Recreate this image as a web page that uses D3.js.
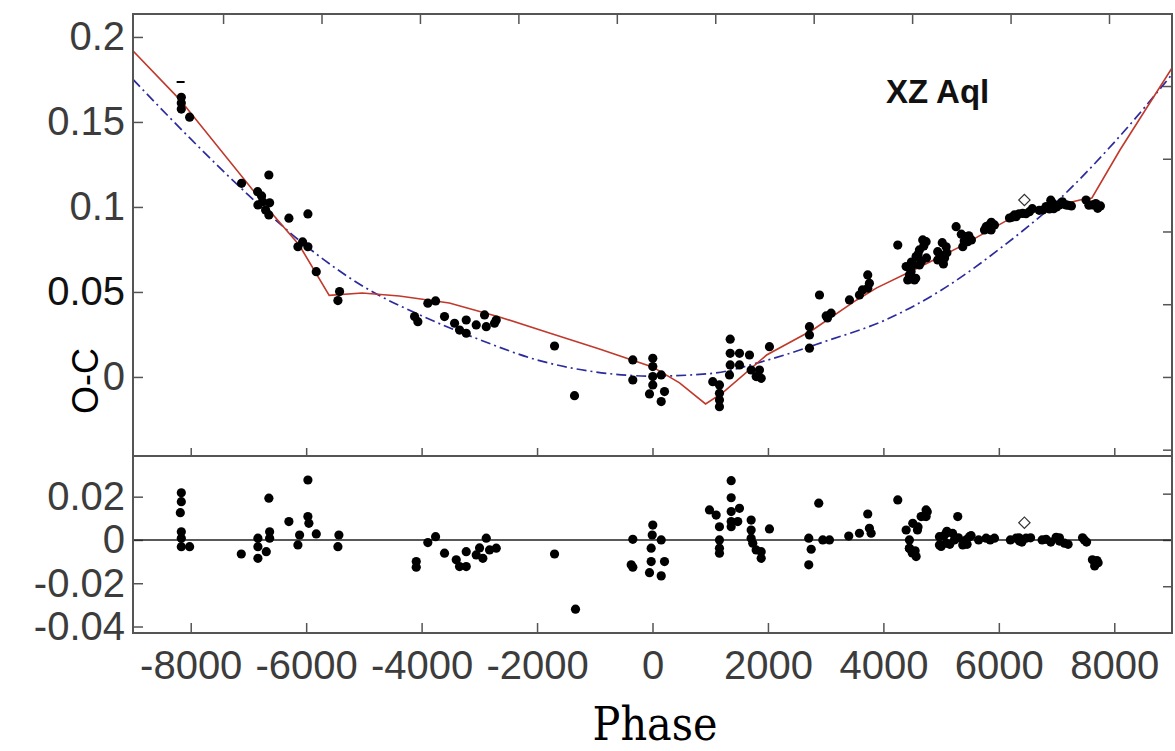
<!DOCTYPE html>
<html>
<head>
<meta charset="utf-8">
<script src="https://cdn.jsdelivr.net/npm/d3@7"></script>
<style>
  body { margin: 0; background: #fff; }
  .axis path { display: none; }
  .axis line { stroke: #555; stroke-width: 1.5; }
  .axis text { font-family: "Liberation Sans", Arial, sans-serif; font-size: 40px; fill: #3c3c3c; }
</style>
</head>
<body>
<svg id="chart" width="1175" height="751"></svg>
<script>
// O-C observations (phase, days)
var obsPhase = [-8163,-8163,-8163,-8019,-7119,-6646,-6841,-6755,-6633,-6836,-6772,-6703,-6646,-6299,-5970,
  -6143,-5970,-6062,-5825,-5421,-5450,-4122,-4065,-3892,-3758,-3603,-3429,-3343,-3227,-3227,-3054,-2910,-2880,
  -2737,-2707,-1697,-1351,-341,-341,5,5,5,151,5,-52,208,151,1044,1160,1160,1160,1160,1346,1346,1346,1334,1507,
  1507,1680,1709,1796,1853,1883,2026,2719,2719,2719,2893,3009,3095,3031,3412,3585,3729,3729,3758,3637,4249,4394,
  4422,4451,4538,4567,4624,4682,4740,4486,4624,4746,4941,4941,5087,5000,5040,5260,5433,5461,5375,5525,5780,5866,
  5924,5751,6270,6299,6414,6530,6184,6760,6819,6934,7050,7165,6876,7257,7511,7626,7713,7760,
  4480,4520,4600,4700,4660,4560,4980,5060,5020,5100,5350,5400,5480,5820,5870,6230,6350,6470,6580,
  6700,6900,7000,7100,7200,6950,7560,7680,7720];
var obsOC = [0.1645,0.1612,0.1576,0.1528,0.1139,0.1188,0.109,0.1031,0.1024,0.1012,0.1065,0.0982,0.0953,0.0934,0.0959,
  0.0766,0.0766,0.0794,0.0619,0.0502,0.0449,0.0355,0.0325,0.0434,0.0447,0.0355,0.0316,0.0276,0.0257,0.0335,0.0306,0.0365,0.0296,
  0.0316,0.0335,0.0182,-0.011,0.01,-0.0018,0.011,0.0061,0.0002,0.0012,-0.0047,-0.01,-0.0086,-0.0145,-0.0028,-0.0047,-0.0096,-0.0135,-0.0175,0.0222,0.0139,0.0071,0.0012,0.0139,
  0.0071,0.0129,0.0041,0.0002,0.0041,-0.0008,0.0178,0.0296,0.0247,0.0169,0.0482,0.0359,0.0375,0.0347,0.0453,0.0482,0.0522,0.06,0.0551,0.0512,0.0776,0.0649,
  0.0571,0.06,0.0571,0.0708,0.0747,0.0806,0.0796,0.0676,0.0659,0.07,0.0737,0.0688,0.0766,0.0708,0.0665,0.0884,0.0825,0.0796,0.0766,0.0806,0.0884,0.0865,
  0.0894,0.0865,0.0953,0.0943,0.0962,0.0972,0.0935,0.0982,0.1002,0.1022,0.1012,0.1012,0.0988,0.1006,0.1041,0.1012,0.0992,0.1006,
  0.062,0.066,0.072,0.077,0.068,0.058,0.072,0.070,0.079,0.073,0.084,0.080,0.083,0.089,0.091,0.094,0.096,0.096,0.099,
  0.098,0.104,0.100,0.103,0.101,0.099,0.101,0.102,0.100];

// residuals after the red fit
var resPhase = [-8163,-8163,-8180,-8163,-8163,-8163,-8019,-7124,-6836,-6836,-6836,-6691,-6646,-6633,-6633,-6299,-6114,-6143,
  -5970,-5970,-5953,-5825,-5433,-5450,-4093,-4093,-3892,-3758,-3603,-3400,-3343,-3227,-3227,-3054,-2939,-2880,-2823,-2707,-2996,
  -1697,-1334,-341,-369,-341,5,-5,-23,151,-23,208,-52,151,1363,1363,987,1103,1160,1160,1160,1160,1363,1363,1363,1507,1477,
  1709,1709,1709,1737,1796,1883,1883,2026,2707,2749,2707,2880,2950,3066,3400,3585,3729,3758,3788,4249,4394,4451,4567,4509,
  4654,4740,4740,4590,4451,5288,4971,4971,5087,5087,5230,5433,5375,5491,5780,5924,6299,6472,6357,6819,6992,7136,7050,7482,7695,7621,
  5000,5050,5150,5200,5100,5300,5450,5520,5650,5850,6200,6400,6550,6350,6750,6900,7050,7200,7450,7520,7660,7720,7700,
  4450,4500,4550,4600,4700,4760];
var resOC = [0.0218,0.0177,0.0126,0.0038,0.0008,-0.0031,-0.0031,-0.0065,0.0008,-0.0031,-0.0085,-0.0054,0.0193,0.0038,0.0008,0.0085,0.0023,-0.0023,
  0.0277,0.0108,0.0077,0.0028,0.0023,-0.0031,-0.01,-0.0126,-0.0012,0.0015,-0.0061,-0.0092,-0.0123,-0.0123,-0.0054,-0.0069,-0.0085,0.0008,-0.0046,-0.0038,-0.0037,
  -0.0065,-0.032,0.0003,-0.0115,-0.0126,0.0069,0.0023,-0.0038,0,-0.01,-0.01,-0.0151,-0.0166,0.0274,0.0195,0.0139,0.0115,0.0061,0,-0.0038,-0.0061,0.0131,0.0085,0.0061,0.0146,0.0085,
  0.0092,0.0046,0.0008,-0.0015,-0.0046,-0.0054,-0.0085,0.0051,0.0008,-0.0043,-0.0115,0.017,0,0,0.0018,0.0031,0.012,0.0054,0.0031,0.0185,0.0046,-0.0038,-0.0077,0.0077,
  0.0108,0.0139,0.0108,0.0046,0,0.0108,0.0015,-0.0023,0.0031,-0.0015,0,0,-0.0023,0.0015,0.0008,0.0008,0.0008,0.0008,-0.0005,0.0003,0.0012,-0.0015,-0.0005,0,-0.0108,-0.0092,
  -0.003,0.002,-0.002,0.003,0.004,0.001,-0.002,0.002,0,0,0,-0.001,0.001,0.001,0,-0.001,0.001,-0.002,0.001,-0.001,-0.012,-0.0105,-0.0095,
  -0.004,-0.006,-0.005,0.006,0.011,0.013];

// open diamond point and the short dash marker
var diamondPhase = 6443, diamondOC = 0.1041, diamondRes = 0.008;
var dashPhase = -8175, dashOC = 0.1735;

// red piecewise fit
var fitPhase = [-9017,-8185,-6641,-6121,-5601,-5029,-4387,-3520,-2653,-1786,-919,0,468,919,1214,1977,2774,3537,3884,4630,5323,6156,6711,7404,7612,8098,9000];
var fitOC = [0.1924,0.163,0.098,0.0776,0.048,0.0494,0.0476,0.0435,0.0353,0.0259,0.0165,0.0059,-0.0035,-0.0159,-0.0094,0.0129,0.0276,0.0453,0.0524,0.0647,0.0765,0.0924,0.0982,0.1041,0.1053,0.1335,0.1818];

// blue parabolic ephemeris
var parPhase = [-9000,-8000,-7000,-6000,-5000,-4000,-3000,-2000,-1000,0,1000,2000,3000,4000,5000,6000,7000,8000,9000];
var parOC = [0.175,0.140,0.107,0.077,0.053,0.036,0.022,0.010,0.003,0.0005,0.002,0.010,0.021,0.033,0.051,0.075,0.103,0.138,0.178];

var period = 2.1392;
var xTicks = [-8000,-6000,-4000,-2000,0,2000,4000,6000,8000];
var yTopTicks = [0,0.05,0.1,0.15,0.2];
var yTopLabels = ["0","0.05","0.1","0.15","0.2"];
var yBotTicks = [-0.04,-0.02,0,0.02];
var yBotLabels = ["-0.04","-0.02","0","0.02"];
var yearTicks = [1910,1920,1930,1940,1950,1960,1970,1980,1990,2000];
var rightTopTicks = [-0.02,0,0.02,0.04,0.06,0.08];
var rightBotTicks = [-0.01,0,0.01];

var svg = d3.select("#chart");
var mLeft = 133, mRight = 1172, mTop = 14, mMid = 456, mBottom = 633;

var x = d3.scaleLinear().domain([-9000, 9000]).range([mLeft, mRight]);
var xYear = d3.scaleLinear().domain([1900.85, 2006.4]).range([mLeft, mRight]);
var yTop = d3.scaleLinear().domain([-0.0465, 0.2135]).range([mMid, mTop]);
var yBot = d3.scaleLinear().domain([-0.043, 0.0388]).range([mBottom, mMid]);
var yTopP = d3.scaleLinear().domain(yTop.domain().map(function(d) { return d / period; })).range(yTop.range());
var yBotP = d3.scaleLinear().domain(yBot.domain().map(function(d) { return d / period; })).range(yBot.range());

// axes
svg.append("g").attr("class", "axis")
    .attr("transform", "translate(0," + mBottom + ")")
    .call(d3.axisBottom(x).tickValues(xTicks).tickSize(-10).tickPadding(18)
      .tickFormat(function(d) { return String(d); }))
    .selectAll("text").attr("dy", "0.71em");
svg.append("g").attr("class", "axis")
    .attr("transform", "translate(0," + mMid + ")")
    .call(d3.axisBottom(x).tickValues(xTicks).tickSize(-8).tickFormat(""));
svg.append("g").attr("class", "axis")
    .attr("transform", "translate(0," + mTop + ")")
    .call(d3.axisTop(xYear).tickValues(yearTicks).tickSize(-10).tickFormat(""));
var yAxisTop = svg.append("g").attr("class", "axis")
    .attr("transform", "translate(" + mLeft + ",0)")
    .call(d3.axisLeft(yTop).tickValues(yTopTicks).tickSize(-10).tickPadding(8)
      .tickFormat(function(d, i) { return yTopLabels[i]; }));
yAxisTop.selectAll("text").filter(function(d) { return d === 0.05; }).style("fill", "#111");
svg.append("g").attr("class", "axis")
    .attr("transform", "translate(" + mLeft + ",0)")
    .call(d3.axisLeft(yBot).tickValues(yBotTicks).tickSize(-10).tickPadding(8)
      .tickFormat(function(d, i) { return yBotLabels[i]; }));
svg.append("g").attr("class", "axis")
    .attr("transform", "translate(" + mRight + ",0)")
    .call(d3.axisRight(yTopP).tickValues(rightTopTicks).tickSize(-9).tickFormat(""));
svg.append("g").attr("class", "axis")
    .attr("transform", "translate(" + mRight + ",0)")
    .call(d3.axisRight(yBotP).tickValues(rightBotTicks).tickSize(-9).tickFormat(""));

// zero line in residual panel
svg.append("line")
    .attr("x1", mLeft).attr("x2", mRight)
    .attr("y1", yBot(0)).attr("y2", yBot(0))
    .attr("stroke", "#222").attr("stroke-width", 1.6);

// fits
var fitData = fitPhase.map(function(p, i) { return [p, fitOC[i]]; });
var parData = parPhase.map(function(p, i) { return [p, parOC[i]]; });

svg.append("clipPath").attr("id", "clipTop")
  .append("rect").attr("x", mLeft).attr("y", mTop).attr("width", mRight - mLeft).attr("height", mMid - mTop);

svg.append("path")
    .datum(parData)
    .attr("clip-path", "url(#clipTop)")
    .attr("fill", "none")
    .attr("stroke", "#2b2b9c")
    .attr("stroke-width", 1.7)
    .attr("stroke-dasharray", "10,4,2,4")
    .attr("d", d3.line().curve(d3.curveMonotoneX).x(function(d) { return x(d[0]); }).y(function(d) { return yTop(d[1]); }));

svg.append("path")
    .datum(fitData)
    .attr("clip-path", "url(#clipTop)")
    .attr("fill", "none")
    .attr("stroke", "#c0392b")
    .attr("stroke-width", 1.6)
    .attr("d", d3.line().x(function(d) { return x(d[0]); }).y(function(d) { return yTop(d[1]); }));

// observations
svg.append("g").selectAll("circle")
    .data(obsPhase)
  .enter().append("circle")
    .attr("cx", function(d) { return x(d); })
    .attr("cy", function(d, i) { return yTop(obsOC[i]); })
    .attr("r", 4.6)
    .attr("fill", "#000");

svg.append("g").selectAll("circle")
    .data(resPhase)
  .enter().append("circle")
    .attr("cx", function(d) { return x(d); })
    .attr("cy", function(d, i) { return yBot(resOC[i]); })
    .attr("r", 4.6)
    .attr("fill", "#000");

var diamond = d3.symbol().type(d3.symbolSquare).size(64);
[[yTop, diamondOC], [yBot, diamondRes]].forEach(function(s) {
  svg.append("path").attr("d", diamond)
      .attr("transform", "translate(" + x(diamondPhase) + "," + s[0](s[1]) + ") rotate(45)")
      .attr("fill", "#fff").attr("stroke", "#333").attr("stroke-width", 1.2);
});

svg.append("line")
    .attr("x1", x(dashPhase) - 4).attr("x2", x(dashPhase) + 4)
    .attr("y1", yTop(dashOC)).attr("y2", yTop(dashOC))
    .attr("stroke", "#000").attr("stroke-width", 2);

// frames
[[mTop, mMid], [mMid, mBottom]].forEach(function(p) {
  svg.append("rect")
      .attr("x", mLeft).attr("y", p[0])
      .attr("width", mRight - mLeft).attr("height", p[1] - p[0])
      .attr("fill", "none").attr("stroke", "#555").attr("stroke-width", 2);
});

// labels
svg.append("text")
    .attr("transform", "translate(98,381) rotate(-90)")
    .attr("text-anchor", "middle")
    .style("font-family", "Liberation Sans, Arial, sans-serif")
    .style("font-size", "36px")
    .attr("fill", "#000")
    .text("O-C");

svg.append("text")
    .attr("x", 886).attr("y", 103)
    .style("font-family", "Liberation Sans, Arial, sans-serif")
    .style("font-size", "33px")
    .style("font-weight", "bold")
    .attr("fill", "#111")
    .text("XZ Aql");

svg.append("text")
    .attr("x", 655).attr("y", 740)
    .attr("text-anchor", "middle")
    .style("font-family", "'DejaVu Serif Condensed', 'DejaVu Serif', serif")
    .style("font-stretch", "condensed")
    .style("font-size", "46px")
    .attr("fill", "#000")
    .text("Phase");
</script>
</body>
</html>
